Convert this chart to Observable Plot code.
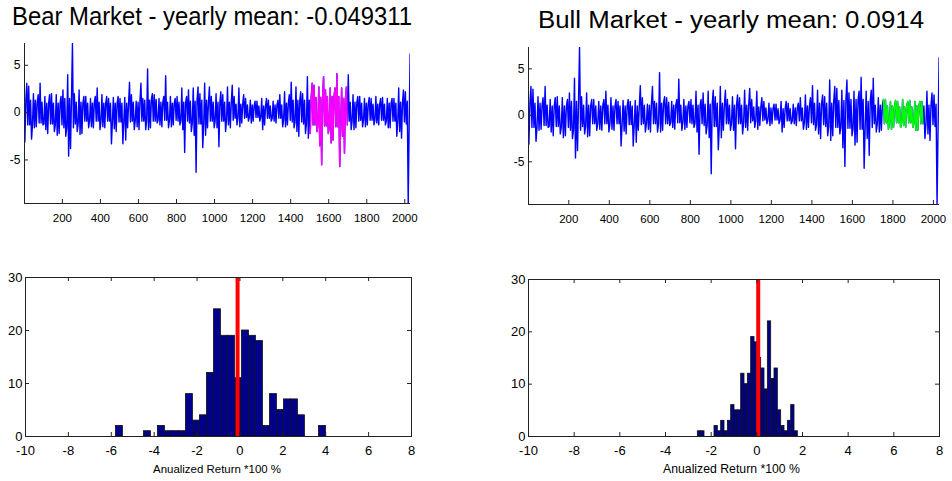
<!DOCTYPE html>
<html><head><meta charset="utf-8">
<script src="https://cdn.jsdelivr.net/npm/d3@7"></script>
<script src="https://cdn.jsdelivr.net/npm/@observablehq/plot@0.6"></script>
<style>
body{margin:0;background:#fff;}
#chart{position:relative;width:952px;height:481px;overflow:hidden;background:#fff;font-family:"Liberation Sans",Arial,sans-serif;}
#chart > svg{position:absolute;}
</style></head><body><div id="chart"></div>
<script>
// ---- daily returns (same series in both top panels), read as high / low extremes per 20-day block ----
const blockSize = 20;
const seriesHi = [3.1,2.8,2.0,1.9,3.1,1.7,1.9,2.0,1.9,1.7, 2.4,4.0,7.3,2.0,2.4,1.7,1.7,1.5,1.7,2.6,
  1.9,1.7,1.5,1.6,1.7,1.5,1.6,3.2,1.9,1.2, 3.1,1.5,4.6,2.0,1.9,1.5,1.7,3.9,1.7,1.5,
  1.7,2.6,1.7,2.4,2.6,2.7,2.0,3.1,2.7,1.7, 2.0,2.2,1.9,2.7,2.9,1.7,2.6,1.9,1.5,1.3,
  1.2,1.2,1.5,1.5,1.3,1.2,1.3,1.9,2.2,1.9, 3.2,2.7,2.2,2.0,3.8,3.1,2.9,2.7,3.8,2.4,
  2.6,2.6,4.1,2.6,2.7,4.0,1.9,1.7,1.7,1.5, 1.6,1.5,1.7,1.5,1.6,1.5,1.5,1.5,2.6,2.4,
  2.2,6.2];
const seriesLo = [-3.1,-2.8,-1.6,-1.5,-1.3,-1.8,-2.2,-2.0,-2.4,-2.2, -2.5,-4.6,-3.8,-2.0,-2.3,-2.2,-1.6,-1.5,-1.6,-1.8,
  -1.5,-1.6,-3.3,-1.7,-2.0,-3.3,-2.9,-1.6,-1.8,-1.5, -1.8,-1.8,-1.8,-1.6,-1.1,-1.3,-1.5,-1.6,-1.5,-1.3,
  -1.3,-1.8,-4.2,-2.0,-2.4,-6.3,-3.7,-2.4,-1.6,-1.6, -1.6,-3.6,-2.0,-1.3,-1.6,-1.3,-1.5,-1.1,-0.9,-1.1,
  -0.9,-0.9,-1.8,-1.3,-0.9,-0.9,-1.1,-1.5,-1.5,-1.3, -1.6,-2.0,-2.5,-2.2,-2.7,-2.2,-2.0,-3.5,-5.5,-2.2,
  -3.2,-2.9,-5.7,-2.5,-4.3,-1.8,-1.8,-1.6,-1.5,-1.5, -1.3,-1.3,-1.1,-1.3,-1.3,-1.6,-1.6,-2.5,-2.0,-2.7,
  -9.6,-4.4];
// typical (dense-core) swing of the trace, per 50-day block
const coreBlock = 50;
const coreHi = [1.3,1.1,1.0,1.0,1.5,1.1,1.0,1.1,1.0,1.0, 1.0,1.1,1.3,1.4,1.1,1.0,1.1,1.2,1.3,1.1,
  1.1,1.1,0.9,0.8,0.7,0.7,0.8,1.0,1.3,1.3, 1.6,1.7,1.7,1.5,1.1,1.0,0.9,0.9,1.0,1.1, 1.2];
const coreLo = [-1.3,-1.1,-1.2,-1.3,-1.6,-1.2,-0.9,-0.9,-0.9,-1.0, -1.0,-0.9,-0.9,-0.9,-0.8,-0.8,-0.9,-1.1,-1.2,-0.9,
  -0.9,-0.8,-0.6,-0.5,-0.5,-0.6,-0.6,-0.8,-1.0,-1.2, -1.3,-1.4,-1.5,-1.3,-0.9,-0.8,-0.8,-0.8,-0.9,-1.0, -1.2];
const dayDomain = [1, 2030];
const returnDomain = [-9.6, 7.3];
const bearWindow = [1501, 1700];
const bullWindow = [1751, 1952];

// ---- histograms of annualized returns ----
const bearCounts = [2,0,0,0,1,0,2,1,1,1, 8,3,4,12,24,19,19,11,20,19, 18,2,8,5,7,7,4,0,0,2];
const bearBinStart = -5.785, bearBinWidth = 0.3265, bearMean = -0.11;
const bullCounts = [1,1,0,0,0,2,1,3,1,3, 6,5,5,12,10,12,19,18,15,13, 9,22,11,13,5,2,1,3,6,1];
const bullBinStart = -2.584, bullBinWidth = 0.146, bullMean = 0.06;

// ---- text ----
const titles = ["Bear Market - yearly mean: -0.049311", "Bull Market - yearly mean: 0.0914"];
const histLabel = "Anualized Return *100 %";
const tsTicksX = [200,400,600,800,1000,1200,1400,1600,1800,2000];
const tsTicksY = [-5,0,5];
const hTicksX = [-10,-8,-6,-4,-2,0,2,4,6,8];
const hTicksY = [0,10,20,30];

const FONT = "Liberation Sans, Arial, Helvetica, sans-serif";
const chart = document.getElementById("chart");

// each 20-day block visits its extreme high, extreme low and typical swing; order varies by block
const orders = [["lo", "cHi", "hi", "cLo"], ["hi", "cLo", "cHi", "lo"], ["cLo", "hi", "lo", "cHi"]];
const points = seriesHi.flatMap((hi, k) => {
  const c = Math.min(Math.floor(k * blockSize / coreBlock), coreHi.length - 1);
  const v = {hi, lo: seriesLo[k], cHi: coreHi[c], cLo: coreLo[c]};
  return orders[k % 3].map((key, j) => ({day: k * blockSize + 3 + 5 * j, r: v[key]}));
});

function place(svg, left, top) {
  svg.style.position = "absolute";
  svg.style.left = left + "px";
  svg.style.top = top + "px";
  chart.appendChild(svg);
}

function tsPanel(win, color, left, top, m) {
  const w = 476, h = 240;
  const pw = w - m.l - m.r, ph = h - m.t - m.b;
  const inWin = d => d.day >= win[0] && d.day <= win[1];
  const svg = Plot.plot({
    width: w, height: h, marginLeft: m.l, marginRight: m.r, marginTop: m.t, marginBottom: m.b,
    x: {domain: dayDomain}, y: {domain: returnDomain},
    style: {fontFamily: FONT, fontSize: "12px", color: "#000", background: "transparent"},
    marks: [
      Plot.lineY(points, {x: "day", y: "r", stroke: "#0000ff", strokeWidth: 1.4, clip: true}),
      Plot.lineY(points.filter(inWin), {x: "day", y: "r", stroke: color, strokeWidth: 1.4, clip: true}),
      Plot.ruleX([dayDomain[0]], {stroke: "#222"}),
      Plot.ruleY([returnDomain[0]], {stroke: "#222"}),
      Plot.ruleX(tsTicksX, {insetTop: ph - 4, stroke: "#222"}),
      Plot.ruleY(tsTicksY, {insetRight: pw - 4, stroke: "#222"}),
      Plot.axisX({ticks: tsTicksX, tickSize: 0, tickPadding: 10, tickFormat: d => String(d), label: null, fontSize: 11.5}),
      Plot.axisY({ticks: tsTicksY, tickSize: 0, tickPadding: 4, tickFormat: d => String(d), label: null, fontSize: 12})
    ]
  });
  place(svg, left, top);
}

function histPanel(counts, start, width, mean, left, top, m) {
  const w = 476, h = 241;
  const pw = w - m.l - m.r, ph = h - m.t - m.b;
  const bins = counts.map((c, j) => ({x1: start + j * width, x2: start + (j + 1) * width, n: c})).filter(b => b.n > 0);
  const svg = Plot.plot({
    width: w, height: h, marginLeft: m.l, marginRight: m.r, marginTop: m.t, marginBottom: m.b,
    x: {domain: [-10, 8]}, y: {domain: [0, 30]},
    style: {fontFamily: FONT, fontSize: "13px", color: "#000", background: "transparent"},
    marks: [
      Plot.rectY(bins, {x1: "x1", x2: "x2", y: "n", fill: "#00008b", stroke: "#111", strokeWidth: 0.8}),
      Plot.ruleX([mean], {stroke: "#ff0000", strokeWidth: 4}),
      Plot.frame({stroke: "#222"}),
      Plot.ruleX(hTicksX, {insetTop: ph - 4, stroke: "#222"}),
      Plot.ruleX(hTicksX, {insetBottom: ph - 4, stroke: "#222"}),
      Plot.ruleY(hTicksY, {insetRight: pw - 4, stroke: "#222"}),
      Plot.ruleY(hTicksY, {insetLeft: pw - 4, stroke: "#222"}),
      Plot.axisX({ticks: hTicksX, tickSize: 0, tickPadding: 9, tickFormat: d => String(d), label: null}),
      Plot.axisY({ticks: hTicksY, tickSize: 0, tickPadding: 3, tickFormat: d => String(d), label: null})
    ]
  });
  place(svg, left, top);
}

tsPanel(bearWindow, "#ff00ff", 0, 0, {l: 24, r: 66, t: 43, b: 37});
tsPanel(bullWindow, "#00ff00", 476, 0, {l: 52, r: 13, t: 47, b: 36});
histPanel(bearCounts, bearBinStart, bearBinWidth, bearMean, 0, 240, {l: 25, r: 65, t: 37, b: 45});
histPanel(bullCounts, bullBinStart, bullBinWidth, bullMean, 476, 240, {l: 52, r: 13, t: 39, b: 45});

// titles and axis labels
const overlay = d3.create("svg").attr("width", 952).attr("height", 481)
  .style("position", "absolute").style("left", "0px").style("top", "0px")
  .attr("font-family", FONT).attr("fill", "#000");
overlay.append("text").attr("x", 12).attr("y", 25).attr("font-size", 25)
  .attr("textLength", 400).attr("lengthAdjust", "spacingAndGlyphs").text(titles[0]);
overlay.append("text").attr("x", 538).attr("y", 28).attr("font-size", 23.5)
  .attr("textLength", 386).attr("lengthAdjust", "spacingAndGlyphs").text(titles[1]);
overlay.append("text").attr("x", 217).attr("y", 473).attr("font-size", 11.5).attr("text-anchor", "middle")
  .attr("textLength", 128).attr("lengthAdjust", "spacingAndGlyphs").text(histLabel);
overlay.append("text").attr("x", 731.5).attr("y", 473).attr("font-size", 12.2).attr("text-anchor", "middle")
  .attr("textLength", 137).attr("lengthAdjust", "spacingAndGlyphs").text(histLabel);
chart.appendChild(overlay.node());
</script></body></html>
